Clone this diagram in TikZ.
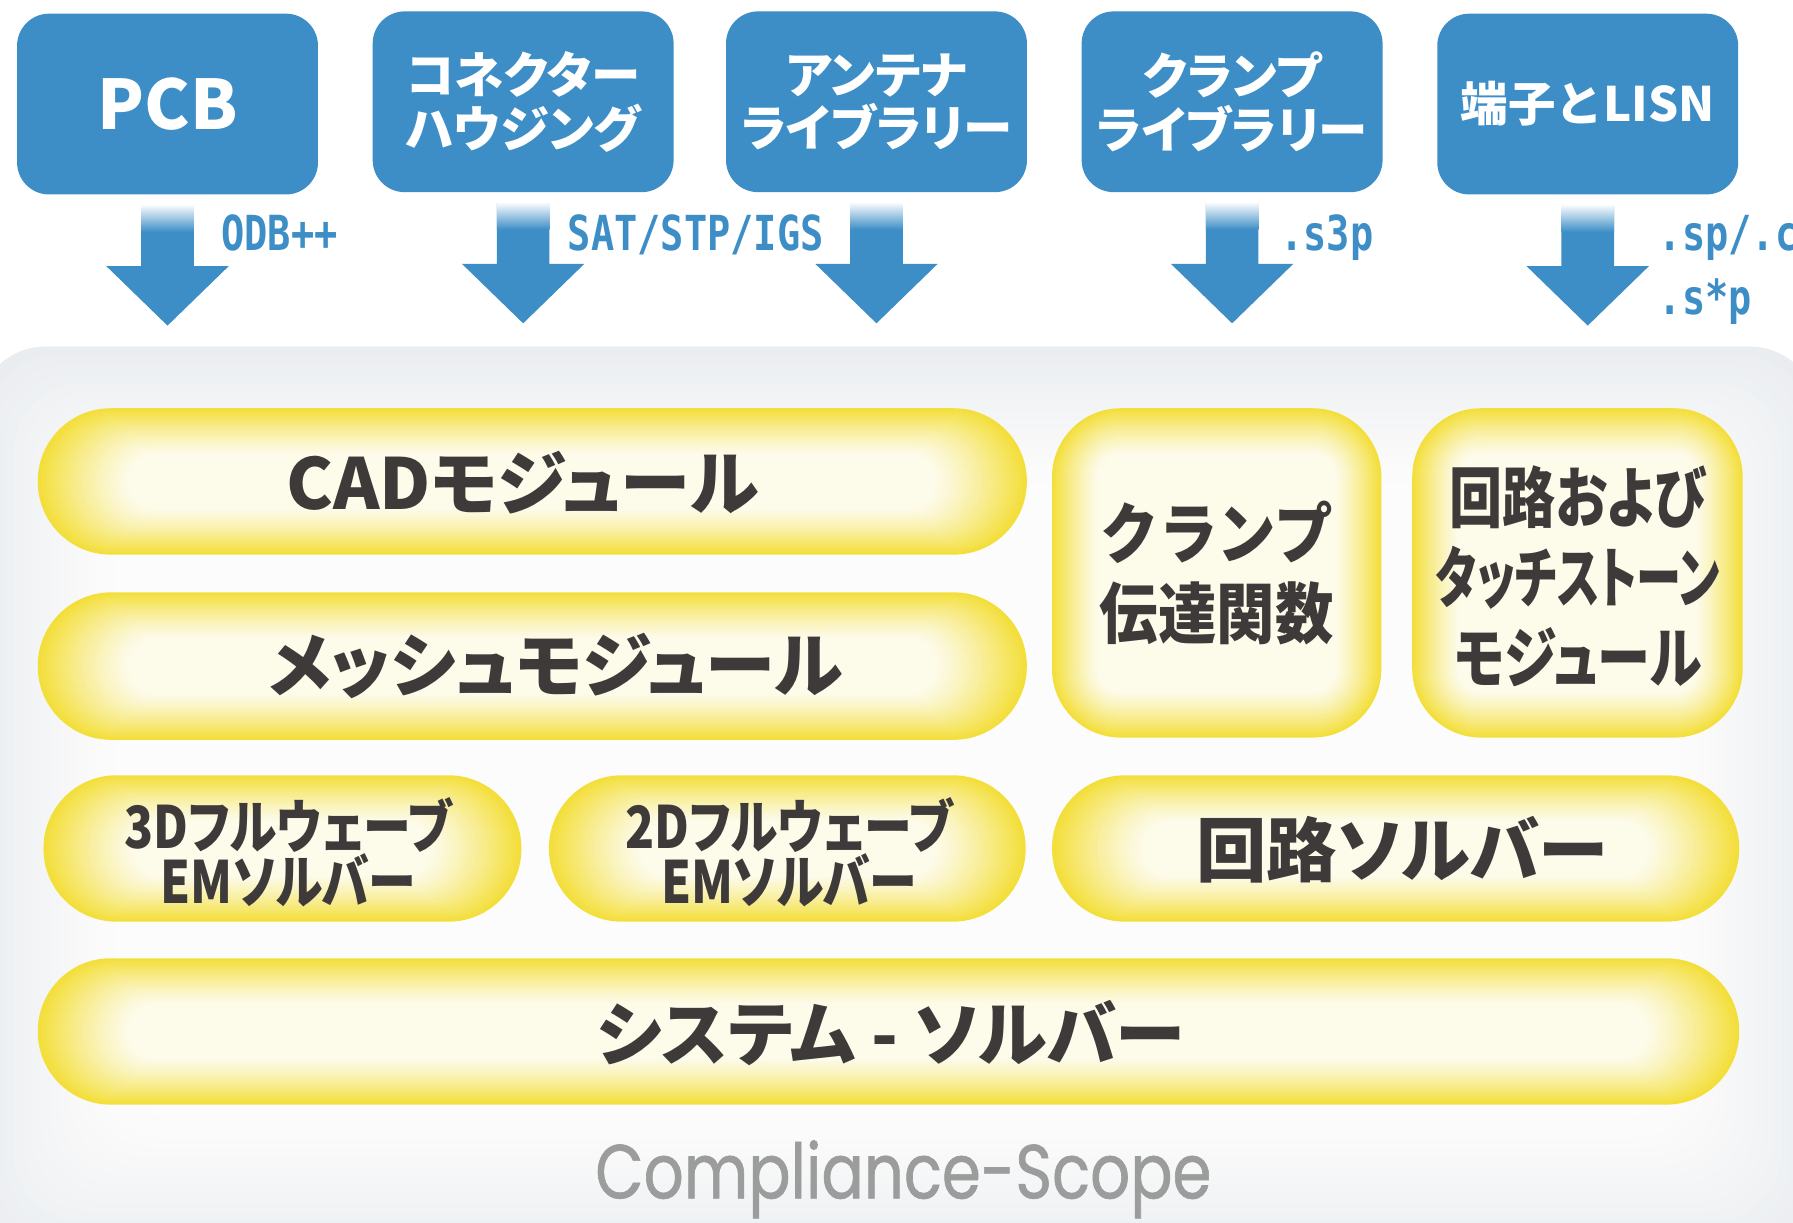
\documentclass[tikz,border=0pt]{standalone}
\usepackage{fontspec}
\usetikzlibrary{calc}
\newfontfamily\jp{Noto Sans CJK JP}
\newfontfamily\jpp[RawFeature=+palt]{Noto Sans CJK JP}
\newfontfamily\jpc[FakeStretch=0.82,RawFeature=+palt]{Noto Sans CJK JP}
\newfontfamily\jpt[FakeStretch=0.88]{Noto Sans CJK JP}
\newfontfamily\jpm[FakeStretch=0.8,RawFeature=+palt]{Noto Sans CJK JP}
\newfontfamily\lab[FakeStretch=0.8]{DejaVu Sans Mono}
\newfontfamily\pop[FakeStretch=0.82,FakeBold=0.8]{Poppins}
\definecolor{boxblue}{HTML}{3D8EC6}
\definecolor{gyel}{HTML}{F3DF3C}
\definecolor{gwhite}{HTML}{FDFBEA}
\definecolor{txt}{HTML}{3E3A39}
\definecolor{cgray}{HTML}{EAEDF0}
\definecolor{cwhite}{HTML}{FCFCFC}
\definecolor{logogray}{HTML}{9B9C9C}
% glowing rounded box: x1 y1 x2 y2 radius hfactor
\newcommand\glowshape[6]{%
  \foreach \i in {0,...,22}{%
    \pgfmathsetmacro\dd{1.8*\i}%
    \pgfmathsetmacro\dx{#6*\dd}%
    \pgfmathsetmacro\pc{100*(1-\i/22)^1.2}%
    \pgfmathsetmacro\rr{(#5-\dd)*0.28453}%
    \fill[gyel!\pc!gwhite, rounded corners=\rr pt] ({#1+\dx},{#2+\dd}) rectangle ({#3-\dx},{#4-\dd});
  }}
\newcommand\dnarrow[1]{%
  \fill[boxblue] ($(#1.south)+(-23,9)$) -- ($(#1.south)+(23,9)$) -- ($(#1.south)+(23,62)$)
    -- ($(#1.south)+(53.5,62)$) -- ($(#1.south)+(0,114)$) -- ($(#1.south)+(-53.5,62)$)
    -- ($(#1.south)+(-23,62)$) -- cycle;
  \shade[top color=boxblue!5, bottom color=boxblue] ($(#1.south)+(-23,9)$) rectangle ($(#1.south)+(23,32)$);
}
\tikzset{
  topbox/.style={fill=boxblue, rounded corners=0.28cm, minimum width=2.63cm, minimum height=1.58cm,
    inner sep=0pt, text=white, align=center, font=\jpp\bfseries\fontsize{12.3pt}{13.3pt}\selectfont},
  lbl/.style={text=boxblue, anchor=base west, inner sep=0pt, font=\lab\bfseries\fontsize{12pt}{14pt}\selectfont},
  big/.style={text=txt, align=center, inner sep=0pt, font=\jpp\bfseries\fontsize{17.5pt}{20pt}\selectfont},
  mid/.style={text=txt, align=center, inner sep=0pt, font=\jpc\bfseries\fontsize{14.5pt}{13.7pt}\selectfont},
}
\begin{document}
\begin{tikzpicture}[x=0.01cm, y=-0.01cm]
\useasboundingbox (0,0) rectangle (1568,1069);
\fill[white] (0,0) rectangle (1568,1069);
% container
\foreach \i in {0,...,15}{%
  \pgfmathsetmacro\dd{8*\i}%
  \pgfmathsetmacro\pc{100*(1-\i/15)^1.3}%
  \fill[cgray!\pc!cwhite, rounded corners=0.6cm] ({-20+\dd},{303+\dd}) rectangle ({1590-\dd},{1100-\dd});
}
% top boxes
\node[topbox, font=\jp\bfseries\fontsize{17pt}{20pt}\selectfont] (pcb) at (146.5,91) {PCB};
\node[topbox] (conn) at (457.5,89) {コネクター\\ハウジング};
\node[topbox] (ant) at (766.5,89) {アンテナ\\ライブラリー};
\node[topbox] (clamp) at (1077.5,89) {クランプ\\ライブラリー};
\node[topbox, font=\jp\bfseries\fontsize{11.8pt}{14pt}\selectfont] (lisn) at (1388.5,91) {端子とLISN};
% arrows
\dnarrow{pcb}
\dnarrow{conn}
\dnarrow{ant}
\dnarrow{clamp}
\dnarrow{lisn}
% labels
\node[lbl] (l1) at (193,219) {ODB++};
\node[lbl] (l2) at (496,219) {SAT/STP/IGS};
\node[lbl] (l3) at (1119,219) {.s3p};
\node[lbl] (l4) at (1450,219) {.sp/.cir};
\node[lbl] (l5) at (1450,275) {.s*p};
% modules
\glowshape{33}{357}{898}{485}{63.7}{2}
\glowshape{33}{518}{898}{647}{64.2}{2}
\glowshape{38}{678}{456}{806}{63.7}{2}
\glowshape{480}{678}{897}{806}{63.7}{2}
\glowshape{920}{678}{1521}{806}{63.7}{2}
\glowshape{33}{838}{1521}{966}{63.7}{2}
\glowshape{920}{357}{1208}{645}{60}{1}
\glowshape{1235}{357}{1524}{645}{60}{1}
\node[big] (cad) at (457,422) {CADモジュール};
\node[big] (mesh) at (486,582) {メッシュモジュール};
\node[mid] (em3) at (252,745) {3Dフルウェーブ\\EMソルバー};
\node[mid] (em2) at (690,745) {2Dフルウェーブ\\EMソルバー};
\node[big] (csol) at (1226,743) {回路ソルバー};
\node[big] (sys) at (779,903) {システム - ソルバー};
\node[big, font=\jpt\bfseries\fontsize{16.5pt}{20pt}\selectfont] (ctf) at (1064,501) {クランプ\\伝達関数};
\node[big, font=\jpm\bfseries\fontsize{16.5pt}{20pt}\selectfont] (cmod) at (1380,504) {回路および\\\scalebox{0.85}[1]{タッチストーン}\\モジュール};
\node[anchor=base, inner sep=0pt, text=logogray, font=\pop\fontsize{19pt}{22pt}\selectfont] (logo) at (790,1048) {Compliance-Scope};
\end{tikzpicture}
\end{document}
